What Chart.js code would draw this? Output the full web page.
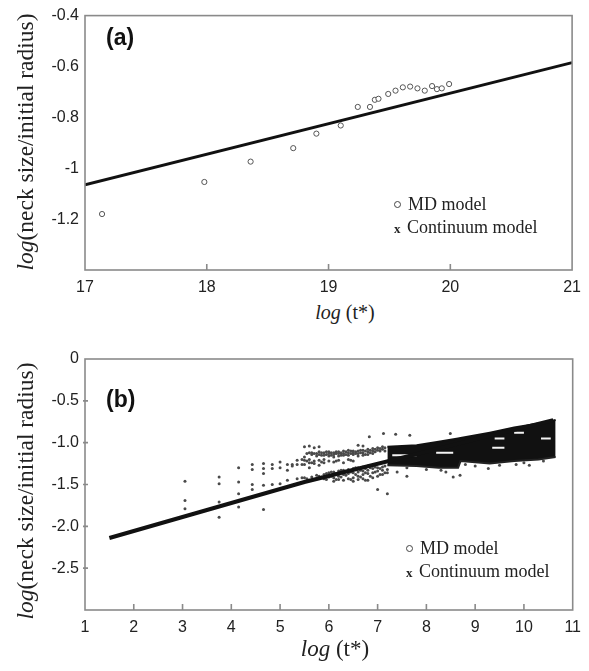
<!DOCTYPE html>
<html>
<head>
<meta charset="utf-8">
<script src="https://cdn.jsdelivr.net/npm/chart.js@4"></script>
<style>
  body { margin: 0; background: #fff; width: 589px; height: 671px; position: relative; overflow: hidden; }
  canvas { position: absolute; left: 0; }
  .t { position: absolute; font-family: "Liberation Serif", "Times New Roman", serif; color: #222; white-space: nowrap; }
  .yt { width: 320px; height: 26px; line-height: 26px; text-align: center; font-size: 23.5px; transform: rotate(-90deg); }
  .xt { width: 120px; text-align: center; line-height: 24px; }
  .pl { position: absolute; font-family: "Liberation Sans", Arial, sans-serif; font-weight: bold; font-size: 23px; color: #111; }
  .lg { font-size: 18px; line-height: 22px; }
  .dot { display: inline-block; width: 5px; height: 5px; border: 1px solid #444; border-radius: 50%; margin-right: 7px; vertical-align: 2px; }
  .xm { display: inline-block; width: 7px; margin-right: 6px; font-size: 13px; font-weight: bold; }
</style>
</head>
<body>
<canvas id="ca" width="589" height="300" style="top:0"></canvas>
<canvas id="cb" width="589" height="310" style="top:330px"></canvas>

<div class="t yt" style="left:-135px; top:129px"><i>log</i>(neck size/initial radius)</div>
<div class="t xt" style="left:285px; top:300px; font-size:20px"><i>log</i> (t*)</div>
<div class="pl" style="left:106px; top:24px">(a)</div>
<div class="t lg" style="left:394px; top:193px"><span class="dot"></span>MD model</div>
<div class="t lg" style="left:394px; top:216px"><span class="xm">x</span>Continuum model</div>

<div class="t yt" style="left:-135px; top:478px"><i>log</i>(neck size/initial radius)</div>
<div class="t xt" style="left:275px; top:637px; font-size:23px"><i>log</i> (t*)</div>
<div class="pl" style="left:106px; top:386px">(b)</div>
<div class="t lg" style="left:406px; top:537px"><span class="dot"></span>MD model</div>
<div class="t lg" style="left:406px; top:560px"><span class="xm">x</span>Continuum model</div>

<script>
// panel (a)
let aMDx = [17.14, 17.98, 18.36, 18.71, 18.90, 19.10, 19.24, 19.34, 19.38, 19.41, 19.49, 19.55, 19.61, 19.67, 19.73, 19.79, 19.85, 19.89, 19.93, 19.99]
let aMDy = [-1.18, -1.054, -0.974, -0.921, -0.864, -0.832, -0.759, -0.759, -0.731, -0.727, -0.708, -0.695, -0.682, -0.679, -0.686, -0.695, -0.677, -0.689, -0.686, -0.669]
let aLineX = [17, 21]
let aLineY = [-1.065, -0.585]
let aTicksX = [17, 18, 19, 20, 21]

// panel (b)
let bLineX = [1.5, 5.5, 10.6]
let bLineY = [-2.14, -1.47, -0.73]
// MD cloud, column by column
let bColX = [3.05, 3.75, 4.15, 4.43, 4.66, 4.84, 5.0, 5.15, 5.25, 5.35, 5.45,
  5.5, 5.6, 5.7, 5.8, 5.9, 6.0, 6.1, 6.2, 6.3, 6.4, 6.5, 6.6, 6.7, 6.8, 6.9, 7.0, 7.1, 7.2,
  5.55, 5.65, 5.75, 5.85, 5.95, 6.05, 6.15, 6.25, 6.35, 6.45, 6.55, 6.65, 6.75, 6.85, 6.95, 7.05, 7.15,
  6.83, 7.12, 7.37, 7.66, 8.49, 7.4, 7.6, 8.0, 8.3, 8.4, 8.55, 8.69, 9.27, 9.84, 10.11,
  8.8, 9.0, 9.5, 10.0, 10.4]
let bColY = [
  [-1.46, -1.69, -1.79],
  [-1.41, -1.49, -1.71, -1.89],
  [-1.30, -1.47, -1.61, -1.77],
  [-1.26, -1.32, -1.50, -1.56],
  [-1.25, -1.31, -1.37, -1.51, -1.80],
  [-1.26, -1.31, -1.50],
  [-1.23, -1.30, -1.49],
  [-1.26, -1.33, -1.45],
  [-1.26, -1.28],
  [-1.21, -1.26, -1.43],
  [-1.20, -1.26, -1.42],
  [-1.05, -1.17, -1.21, -1.26, -1.42],
  [-1.04, -1.12, -1.20, -1.24, -1.30, -1.45],
  [-1.06, -1.13, -1.22, -1.25, -1.44],
  [-1.05, -1.11, -1.14, -1.21, -1.27, -1.40],
  [-1.12, -1.15, -1.20, -1.24, -1.38, -1.43],
  [-1.11, -1.13, -1.16, -1.22, -1.36, -1.41],
  [-1.12, -1.14, -1.17, -1.23, -1.35, -1.42, -1.46],
  [-1.11, -1.13, -1.16, -1.21, -1.34, -1.40, -1.44],
  [-1.10, -1.13, -1.15, -1.24, -1.33, -1.38, -1.45],
  [-1.09, -1.12, -1.15, -1.20, -1.32, -1.37, -1.43],
  [-1.10, -1.12, -1.14, -1.22, -1.31, -1.36, -1.42, -1.46],
  [-1.03, -1.10, -1.13, -1.16, -1.30, -1.35, -1.40, -1.44],
  [-1.04, -1.09, -1.12, -1.15, -1.29, -1.34, -1.38, -1.43],
  [-1.08, -1.11, -1.14, -1.28, -1.33, -1.37, -1.45],
  [-1.07, -1.10, -1.13, -1.27, -1.31, -1.36, -1.42],
  [-1.06, -1.09, -1.30, -1.34, -1.40, -1.56],
  [-1.05, -1.08, -1.29, -1.33, -1.38],
  [-1.32, -1.36, -1.61],
  [-1.13, -1.22, -1.43],
  [-1.12, -1.14, -1.24, -1.41],
  [-1.13, -1.16, -1.39],
  [-1.12, -1.15, -1.23, -1.41],
  [-1.11, -1.14, -1.37, -1.44],
  [-1.12, -1.15, -1.35, -1.40],
  [-1.11, -1.13, -1.22, -1.37, -1.44],
  [-1.12, -1.15, -1.33, -1.41],
  [-1.11, -1.14, -1.34, -1.39],
  [-1.10, -1.13, -1.21, -1.35, -1.44],
  [-1.11, -1.13, -1.30, -1.38],
  [-1.09, -1.12, -1.33, -1.41],
  [-1.10, -1.14, -1.31, -1.36, -1.45],
  [-1.09, -1.12, -1.30, -1.40],
  [-1.08, -1.11, -1.29, -1.35],
  [-1.07, -1.10, -1.31, -1.38],
  [-1.06, -1.10, -1.28, -1.36],
  [-0.93], [-0.89], [-0.90], [-0.91], [-0.89], [-1.35], [-1.30, -1.40], [-1.32], [-1.33], [-1.35],
  [-1.41], [-1.39], [-1.31], [-1.26], [-1.27],
  [-1.26], [-1.28], [-1.27], [-1.24], [-1.22]
]
// saturated part of the cloud (upper / lower edge)
let bandX = [7.2, 7.8, 8.25, 8.65, 8.7, 9.3, 9.8, 10.3, 10.65]
let bandTop = [-1.05, -1.03, -0.99, -0.95, -0.945, -0.88, -0.82, -0.77, -0.73]
let bandBot = [-1.27, -1.28, -1.30, -1.30, -1.22, -1.25, -1.22, -1.20, -1.17]
// white streaks inside the band
let holeX = [7.3, 7.8, null, 8.2, 8.55, null, 9.4, 9.6, null, 9.35, 9.6, null, 9.8, 10.0, null, 10.35, 10.55]
let holeY = [-1.15, -1.15, null, -1.12, -1.12, null, -0.95, -0.95, null, -1.06, -1.06, null, -0.88, -0.88, null, -0.95, -0.95]
let bTicksX = [1, 2, 3, 4, 5, 6, 7, 8, 9, 10, 11]

function pts(xs, ys) { return xs.map((x, i) => (x === null ? { x: null, y: null } : { x: x, y: ys[i] })) }

let bMD = []
bColX.forEach((x, i) => bColY[i].forEach(y => bMD.push({ x: x, y: y })))

// frame + inward ticks
let marco = {
  id: 'marco',
  afterDraw(chart, args, o) {
    let c = chart.ctx, a = chart.chartArea, sx = chart.scales.x, sy = chart.scales.y
    c.save()
    c.strokeStyle = '#8a8a8a'
    c.lineWidth = 1.6
    c.strokeRect(a.left, a.top, a.right - a.left, a.bottom - a.top)
    c.beginPath()
    sx.ticks.forEach(t => {
      let p = sx.getPixelForValue(t.value)
      if (p > a.left + 2 && p < a.right - 2) { c.moveTo(p, a.bottom); c.lineTo(p, a.bottom - 6) }
    })
    if (o.yTicks) sy.ticks.forEach(t => {
      let p = sy.getPixelForValue(t.value)
      if (p > a.top + 2 && p < a.bottom - 2) { c.moveTo(a.left - 2, p); c.lineTo(a.left + 3, p) }
    })
    c.stroke()
    c.restore()
  }
}

let fuente = { family: '"Liberation Sans", Arial, sans-serif', size: 16 }

function ejes(xmin, xmax, ymin, ymax, ystep, fmt, xh) {
  return {
    x: {
      type: 'linear', min: xmin, max: xmax,
      afterBuildTicks: s => { s.ticks = (xmin === 17 ? aTicksX : bTicksX).map(v => ({ value: v })) },
      grid: { display: false, drawTicks: false }, border: { display: false },
      ticks: { color: '#222', font: fuente, padding: 8, maxRotation: 0 },
      afterFit: s => { s.height = xh }
    },
    y: {
      type: 'linear', min: ymin, max: ymax,
      grid: { display: false, drawTicks: false }, border: { display: false },
      ticks: { color: '#222', font: fuente, padding: 6, stepSize: ystep, callback: fmt },
      afterFit: s => { s.width = 85 }
    }
  }
}

new Chart(document.getElementById('ca').getContext('2d'), {
  type: 'scatter',
  data: {
    datasets: [
      { label: 'Continuum model', data: pts(aLineX, aLineY), showLine: true, borderColor: '#111', borderWidth: 3, pointRadius: 0 },
      { label: 'MD model', data: pts(aMDx, aMDy), pointRadius: 2.6, pointBorderWidth: 1, pointBorderColor: '#555', pointBackgroundColor: '#fff' }
    ]
  },
  options: {
    responsive: false, animation: false,
    layout: { padding: { top: 10, right: 12, left: 0, bottom: 0 } },
    scales: ejes(17, 21, -1.4, -0.4, 0.2, v => Math.abs(v + 1.4) < 1e-6 ? '' : String(+v.toFixed(1)), 30),
    plugins: { legend: { display: false }, tooltip: { enabled: false }, marco: { yTicks: false } }
  },
  plugins: [marco]
})

new Chart(document.getElementById('cb').getContext('2d'), {
  type: 'scatter',
  data: {
    datasets: [
      { label: 'Continuum model', order: 0, data: pts(bLineX, bLineY), showLine: true, borderColor: '#111', borderWidth: 4, pointRadius: 0 },
      { label: 'MD model', order: 1, data: bMD, pointRadius: 1.5, pointBorderWidth: 0, pointBackgroundColor: '#4a4a4a' },
      { label: 'gaps', order: 2, data: pts(holeX, holeY), showLine: true, spanGaps: false, borderColor: '#f4f4f4', borderWidth: 2, pointRadius: 0 },
      { label: 'band bottom', order: 3, data: pts(bandX, bandBot), showLine: true, borderColor: '#222', borderWidth: 2, pointRadius: 0 },
      { label: 'band top', order: 4, data: pts(bandX, bandTop), showLine: true, borderColor: '#111', borderWidth: 2, pointRadius: 0, backgroundColor: '#111', fill: '-1' }
    ]
  },
  options: {
    responsive: false, animation: false,
    layout: { padding: { top: 29, right: 12, left: 0, bottom: 0 } },
    scales: ejes(1, 11, -3, 0, 0.5, v => Math.abs(v + 3) < 1e-6 ? '' : (Math.abs(v) < 1e-6 ? '0' : v.toFixed(1)), 30),
    plugins: { legend: { display: false }, tooltip: { enabled: false }, filler: { propagate: false }, marco: { yTicks: true } }
  },
  plugins: [marco]
})
</script>
</body>
</html>
